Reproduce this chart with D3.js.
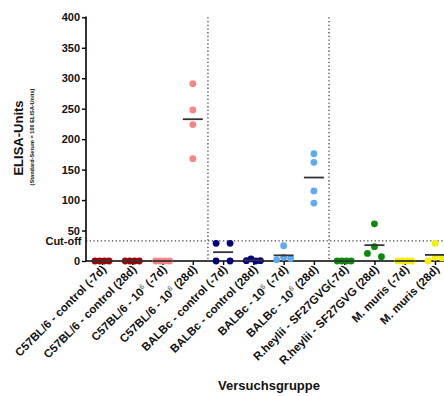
<!DOCTYPE html>
<html>
<head>
<meta charset="utf-8">
<script src="https://cdn.jsdelivr.net/npm/d3@7"></script>
<style>
  body { margin: 0; background: #fff; }
  text { font-family: "Liberation Sans", Arial, sans-serif; font-weight: bold; }
</style>
</head>
<body>
<div id="app"></div>
<script>
// groups on the x axis; "^6" marks a superscript 6
const groups = [
  "C57BL/6 - control (-7d)", "C57BL/6 - control (28d)",
  "C57BL/6 - 10^6 (-7d)", "C57BL/6 - 10^6 (28d)",
  "BALBc - control (-7d)", "BALBc - control (28d)",
  "BALBc - 10^6 (-7d)", "BALBc - 10^6 (28d)",
  "R.heylii - SF27GVG(-7d)", "R.heylii - SF27GVG (28d)",
  "M. muris (-7d)", "M. muris (28d)"
];
const values = [
  [0, 0, 0, 0], [0, 0, 0, 0], [0, 0, 0, 0], [291, 248, 224, 168],
  [29, 29, 0, 0], [0.5, 3.5, 0, 0.5], [25, 2, 6, 4], [176, 162, 115, 95],
  [0, 0, 0, 0], [61, 23.5, 12.5, 7], [0, 0, 0, 0], [29, 0, 6, 5]
];
const colors = [
  "#9c0000", "#9c0000", "#f98585", "#f98585",
  "#000080", "#000080", "#5ea9f3", "#5ea9f3",
  "#0a8a0a", "#0a8a0a", "#f5f000", "#f5f000"
];
const yTicks = [0, 50, 100, 150, 200, 250, 300, 350, 400];
const cutOff = 33;
const dividers = [[3, 4], [7, 8]]; // dotted lines between these groups

var w = 444, h = 396;
const padL = 86, padT = 17.3, axisY = 261;
const r = 3.4;

const svg = d3.select("#app").append("svg")
  .attr("width", w).attr("height", h);

const x = d3.scalePoint().domain(d3.range(groups.length)).range([102, 435]);
const y = d3.scaleLinear().domain([0, 400]).range([axisY, padT]);

// dotted reference lines
svg.append("line")
  .attr("x1", padL).attr("x2", w)
  .attr("y1", y(cutOff)).attr("y2", y(cutOff))
  .attr("stroke", "#444").attr("stroke-width", 1.3)
  .attr("stroke-dasharray", "1.3,2.4");

dividers.forEach(p => {
  const xx = (x(p[0]) + x(p[1])) / 2;
  svg.append("line")
    .attr("x1", xx).attr("x2", xx)
    .attr("y1", y(400)).attr("y2", axisY)
    .attr("stroke", "#444").attr("stroke-width", 1.3)
    .attr("stroke-dasharray", "1.3,2.4");
});

// spread dots of one group sideways when they overlap
function spread(vals) {
  const off = vals.map(() => 0);
  const idx = d3.range(vals.length).sort((a, b) => vals[a] - vals[b]);
  let clusters = [], cur = [idx[0]];
  for (let k = 1; k < idx.length; k++) {
    if (Math.abs(y(vals[idx[k]]) - y(vals[cur[cur.length - 1]])) < 6) cur.push(idx[k]);
    else { clusters.push(cur); cur = [idx[k]]; }
  }
  clusters.push(cur);
  clusters.forEach(c => {
    c.sort((a, b) => a - b);
    const n = c.length;
    const step = n > 1 ? 14 / (n - 1) : 0;
    c.forEach((i, k) => off[i] = (k - (n - 1) / 2) * step);
  });
  return off;
}

const points = [];
values.forEach((vals, g) => {
  const off = spread(vals);
  vals.forEach((v, i) => points.push({ g: g, v: v, dx: off[i] }));
});

// axes
const yAxis = d3.axisLeft(y).tickValues(yTicks).tickSize(4).tickPadding(2);
const gy = svg.append("g").attr("transform", "translate(" + padL + ",0)").call(yAxis);
gy.select(".domain").attr("stroke-width", 1.6).attr("d", "M0," + (padT - 0.8) + "V" + axisY);
gy.selectAll(".tick line").attr("stroke-width", 1.4);
gy.selectAll(".tick text").attr("font-size", 11).attr("fill", "#111")
  .style("font-family", '"Liberation Sans", Arial, sans-serif').style("font-weight", "bold");

const xAxis = d3.axisBottom(x).tickSize(4).tickFormat("");
const gx = svg.append("g").attr("transform", "translate(0," + axisY + ")").call(xAxis);
gx.select(".domain").attr("stroke-width", 1.6).attr("d", "M" + padL + ",0H" + (w + 10));
gx.selectAll(".tick line").attr("stroke-width", 1.4);

svg.append("text")
  .attr("x", 81.5).attr("y", y(cutOff) + 0.5).attr("dy", "0.35em")
  .attr("text-anchor", "end").attr("font-size", 11).attr("fill", "#111")
  .text("Cut-off");

// dots
svg.selectAll(".dot").data(points).enter().append("circle")
  .attr("class", "dot")
  .attr("cx", d => x(d.g) + d.dx)
  .attr("cy", d => y(d.v))
  .attr("r", r)
  .attr("fill", d => colors[d.g]);

// mean lines
svg.selectAll(".mean").data(values).enter().append("line")
  .attr("class", "mean")
  .attr("x1", (d, i) => x(i) - 10).attr("x2", (d, i) => x(i) + 10)
  .attr("y1", d => y(d3.mean(d))).attr("y2", d => y(d3.mean(d)))
  .attr("stroke", "#333").attr("stroke-width", 1.8);

// rotated group labels
const labels = svg.selectAll(".xlab").data(groups).enter().append("text")
  .attr("class", "xlab")
  .attr("font-size", 11.5).attr("fill", "#111")
  .attr("text-anchor", "end")
  .attr("transform", (d, i) => "translate(" + (x(i) + 5) + "," + (axisY + 9) + ") rotate(-45)");

labels.each(function (d) {
  const t = d3.select(this);
  const parts = d.split("^6");
  t.append("tspan").text(parts[0]);
  if (parts.length > 1) {
    t.append("tspan").attr("baseline-shift", "super").attr("font-size", 7.5)
      .attr("fill", "#888").text("6");
    t.append("tspan").text(parts[1]);
  }
});

// axis titles
svg.append("text")
  .attr("transform", "translate(23,138) rotate(-90)")
  .attr("text-anchor", "middle").attr("font-size", 13).attr("fill", "#111")
  .text("ELISA-Units");
svg.append("text")
  .attr("transform", "translate(33.5,137) rotate(-90)")
  .attr("text-anchor", "middle").attr("font-size", 5.6).attr("fill", "#111")
  .text("(Standard-Serum = 100 ELISA-Units)");
svg.append("text")
  .attr("x", 269).attr("y", 390)
  .attr("text-anchor", "middle").attr("font-size", 13).attr("fill", "#111")
  .text("Versuchsgruppe");
</script>
</body>
</html>
